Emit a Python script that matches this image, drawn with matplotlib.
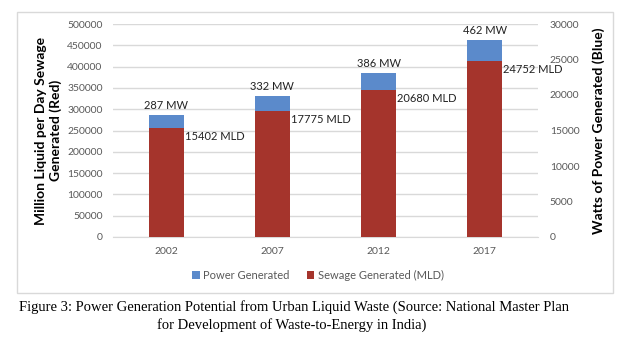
import matplotlib.pyplot as plt
from matplotlib.patches import Rectangle

plt.rcParams.update({
    "font.family": ["Lato", "DejaVu Sans"],
})

years = ["2002", "2007", "2012", "2017"]
power_mw = [287, 332, 386, 462]                 # blue, left axis (x1000)
sewage_mld = [15402, 17775, 20680, 24752]       # red, right axis

BLUE = "#5B8ACB"
RED = "#A5342C"
GRID = "#D9D9D9"
TICK = "#595959"

fig = plt.figure(figsize=(6.28, 3.46), dpi=100)
ax = fig.add_axes([113 / 628, 1 - 237 / 346, 425 / 628, 213 / 346])
ax2 = ax.twinx()

x = list(range(len(years)))
w = 0.33

ax.bar(x, [p * 1000 for p in power_mw], width=w, color=BLUE, zorder=2,
       label="Power Generated")
ax2.bar(x, sewage_mld, width=w, color=RED, zorder=2,
        label="Sewage Generated (MLD)")

ax.set_xlim(-0.5, 3.5)
ax.set_ylim(0, 500000)
ax2.set_ylim(0, 30000)
ax.set_yticks(range(0, 500001, 50000))
ax2.set_yticks(range(0, 30001, 5000))
ax.set_xticks(x)
ax.set_xticklabels(years)

ax.yaxis.grid(True, color=GRID, linewidth=1, zorder=0)
ax.set_axisbelow(True)
for a in (ax, ax2):
    for s in a.spines.values():
        s.set_visible(False)
    a.tick_params(length=0, labelsize=7.5, colors=TICK)
ax.spines["bottom"].set_visible(True)
ax.spines["bottom"].set_color(GRID)
ax.tick_params(axis="y", pad=7.5)
ax.tick_params(axis="x", pad=7)
ax2.tick_params(axis="y", pad=8.5)

ax.set_ylabel("Million Liquid per Day Sewage\nGenerated (Red)",
              fontsize=10, fontweight="bold", labelpad=4)
ax2.set_ylabel("Watts of Power Generated (Blue)",
               fontsize=10, fontweight="bold", labelpad=9)

# value labels
for xi, p, s in zip(x, power_mw, sewage_mld):
    ax.text(xi, p * 1000 + 22000, f"{p} MW", ha="center", va="center",
            fontsize=8, color="#222222")
    ax2.text(xi + w / 2 + 0.01, s - 1200, f"{s} MLD", ha="left", va="center",
             fontsize=8, color="#222222")

h1, l1 = ax.get_legend_handles_labels()
h2, l2 = ax2.get_legend_handles_labels()
fig.legend(h1 + h2, l1 + l2, loc="center", bbox_to_anchor=(318 / 628, 1 - 275 / 346),
           ncol=2, frameon=False, fontsize=8, handlelength=0.7, handleheight=0.7,
           handletextpad=0.3, columnspacing=1.5, labelcolor=TICK)

fig.patches.append(Rectangle((17 / 628, 1 - 293 / 346), 596 / 628, 281 / 346,
                             transform=fig.transFigure, fill=False,
                             edgecolor=GRID, linewidth=1))

fig.text(294 / 628, 1 - 307 / 346,
         "Figure 3: Power Generation Potential from Urban Liquid Waste (Source: National Master Plan",
         ha="center", va="center", fontsize=10.5, family="Liberation Serif")
fig.text(292 / 628, 1 - 325 / 346,
         "for Development of Waste-to-Energy in India)",
         ha="center", va="center", fontsize=10.5, family="Liberation Serif")

fig.savefig("out.png", dpi=100, facecolor="white")
